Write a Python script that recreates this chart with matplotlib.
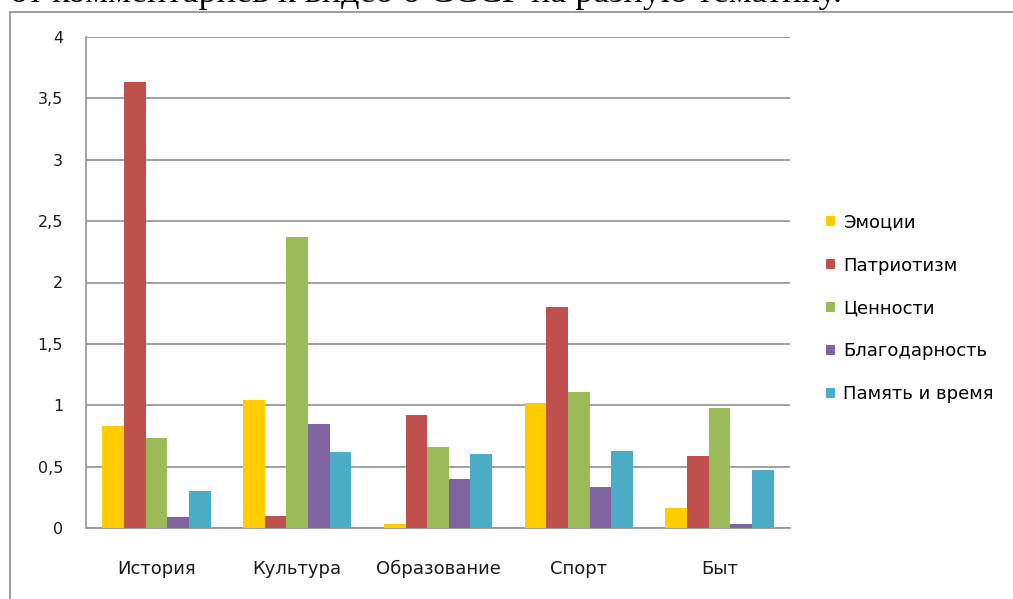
import matplotlib.pyplot as plt
import numpy as np
from matplotlib.patches import Rectangle

categories = ["История", "Культура", "Образование", "Спорт", "Быт"]
series = ["Эмоции", "Патриотизм", "Ценности", "Благодарность", "Память и время"]
emotions = [0.83, 1.04, 0.03, 1.02, 0.16]
patriotism = [3.63, 0.10, 0.92, 1.80, 0.59]
values_ = [0.73, 2.37, 0.66, 1.11, 0.98]
gratitude = [0.09, 0.85, 0.40, 0.33, 0.03]
memory = [0.30, 0.62, 0.60, 0.63, 0.47]
yticks = [0, 0.5, 1, 1.5, 2, 2.5, 3, 3.5, 4]
ytick_labels = ["0", "0,5", "1", "1,5", "2", "2,5", "3", "3,5", "4"]

colors = ["#ffcc00", "#c0504d", "#9bbb59", "#8064a2", "#4bacc6"]
data = [emotions, patriotism, values_, gratitude, memory]

plt.rcParams["font.family"] = ["DejaVu Sans"]

fig = plt.figure(figsize=(10.13, 5.99), dpi=100)
ax = fig.add_axes([86 / 1013, 71 / 599, 704 / 1013, 491 / 599])

# chart frame like in Excel
fig.patches.append(Rectangle((10 / 1013, -0.05), 1.1, 1 - 12 / 599 + 0.05,
                             transform=fig.transFigure, fill=False,
                             edgecolor="#8c8c8c", linewidth=1.2))

# cropped caption text above the chart
fig.text(842 / 1013, 1 - 2 / 599, "от комментариев к видео о СССР на разную тематику.",
         ha="right", va="baseline", fontsize=26, family="Liberation Serif")

n = len(series)
w = 1 / 6.5
x = np.arange(len(categories))
for i, (name, vals) in enumerate(zip(series, data)):
    ax.bar(x + (i - (n - 1) / 2) * w, vals, width=w, color=colors[i],
           label=name, zorder=3, edgecolor="none")

ax.set_xlim(-0.5, len(categories) - 0.5)
ax.set_ylim(0, 4)
ax.set_yticks(yticks)
ax.set_yticklabels(ytick_labels)
ax.set_xticks(x)
ax.set_xticklabels(categories)

ax.yaxis.grid(True, color="#999999", linewidth=1.3, zorder=0)
for s in ["top", "right"]:
    ax.spines[s].set_visible(False)
for s in ["left", "bottom"]:
    ax.spines[s].set_color("#999999")
    ax.spines[s].set_linewidth(1.3)
ax.tick_params(axis="y", length=0, labelsize=11.5, pad=16.5, labelcolor="#1a1a1a")
ax.tick_params(axis="x", length=0, labelsize=13, pad=23, labelcolor="#1a1a1a")

ax.legend(loc="center left", bbox_to_anchor=((826 - 86) / 704, 0.447),
          frameon=False, fontsize=13, handlelength=0.5, handleheight=0.5,
          handletextpad=0.45, labelspacing=1.38, borderaxespad=0, borderpad=0)

fig.savefig("out.png", dpi=100)
